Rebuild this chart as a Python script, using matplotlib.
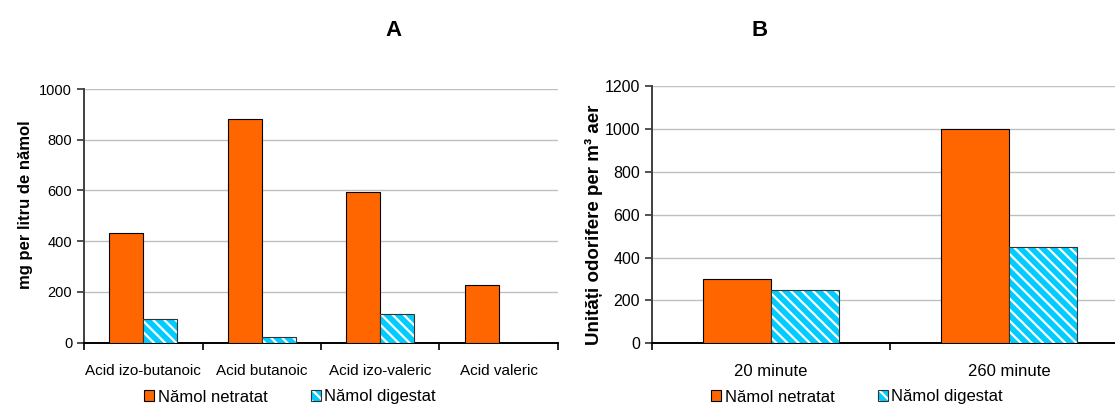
import numpy as np
import matplotlib.pyplot as plt
from matplotlib.patches import Patch

plt.rcParams['font.family'] = ['Liberation Sans', 'DejaVu Sans']
plt.rcParams['hatch.linewidth'] = 1.6

# date
acizi = ['Acid izo-butanoic', 'Acid butanoic', 'Acid izo-valeric', 'Acid valeric']
acizi_netratat = [434, 882, 594, 227]
acizi_digestat = [93, 22, 114, 0]

timpi = ['20 minute', '260 minute']
odori_netratat = [300, 1000]
odori_digestat = [250, 450]

serii = ['Nămol netratat', 'Nămol digestat']

ORANGE = '#FF6600'
CYAN = '#00CCFF'
HATCH = '\\\\\\'
W = 1 / 3.5


def draw_panel(ax, labels, netratat, digestat, ymax, ystep, ysize, xsize):
    x = np.arange(len(labels))
    ax.bar(x - W / 2, netratat, W, color=ORANGE, edgecolor='black', linewidth=0.8, zorder=3)
    ax.bar(x + W / 2, digestat, W, facecolor=CYAN, edgecolor='white', hatch=HATCH,
           linewidth=0, zorder=3)
    ax.bar(x + W / 2, digestat, W, fill=False, edgecolor='#333333', linewidth=0.8, zorder=4)

    ax.set_xlim(-0.5, len(labels) - 0.5)
    ax.set_ylim(0, ymax)
    ax.set_yticks(np.arange(0, ymax + 1, ystep))
    ax.set_xticks(x)
    ax.set_xticklabels(labels, fontsize=xsize)
    ax.set_xticks(np.arange(len(labels) + 1) - 0.5, minor=True)
    ax.tick_params(axis='x', which='major', length=0, pad=15)
    ax.tick_params(axis='x', which='minor', length=5, direction='out', color='black', width=1.2)
    ax.tick_params(axis='y', length=5, direction='out', labelsize=ysize, width=1.2, color='#333333')
    ax.yaxis.grid(True, color='#C0C0C0', linewidth=1, zorder=0)
    ax.set_axisbelow(True)
    for s in ['top', 'right']:
        ax.spines[s].set_visible(False)
    ax.spines['left'].set_color('#404040')
    ax.spines['left'].set_linewidth(1.4)
    ax.spines['bottom'].set_color('black')
    ax.spines['bottom'].set_linewidth(1.4)


fig = plt.figure(figsize=(11.15, 4.07), dpi=100)
ax_a = fig.add_axes([84 / 1115, 1 - 342.7 / 407, 474 / 1115, 253.7 / 407])
ax_b = fig.add_axes([652 / 1115, 1 - 343.3 / 407, 476 / 1115, 257.3 / 407])

draw_panel(ax_a, acizi, acizi_netratat, acizi_digestat, 1000, 200, 10.5, 11)
draw_panel(ax_b, timpi, odori_netratat, odori_digestat, 1200, 200, 11.5, 12)

fig.text(26 / 1115, 1 - 205 / 407, 'mg per litru de nămol', rotation=90, fontsize=12,
         fontweight='bold', ha='center', va='center')
fig.text(594 / 1115, 1 - 225 / 407, 'Unități odorifere per m³ aer', rotation=90, fontsize=13.5,
         fontweight='bold', ha='center', va='center')

fig.text(393 / 1115, 1 - 30 / 407, 'A', fontsize=16, fontweight='bold', ha='center', va='center')
fig.text(760 / 1115, 1 - 30 / 407, 'B', fontsize=16, fontweight='bold', ha='center', va='center')

h_net = Patch(facecolor=ORANGE, edgecolor='black', linewidth=0.8)
h_dig = (Patch(facecolor=CYAN, edgecolor='white', hatch=HATCH, linewidth=0),
         Patch(fill=False, edgecolor='#333333', linewidth=0.8))
for cx in [290, 857]:
    fig.legend([h_net, h_dig], serii, loc='center', bbox_to_anchor=(cx / 1115, 1 - 397 / 407),
               ncol=2, frameon=False, fontsize=12, handlelength=0.6, handleheight=0.6,
               handletextpad=0.2, columnspacing=2.6)

fig.savefig('out.png', dpi=100)
